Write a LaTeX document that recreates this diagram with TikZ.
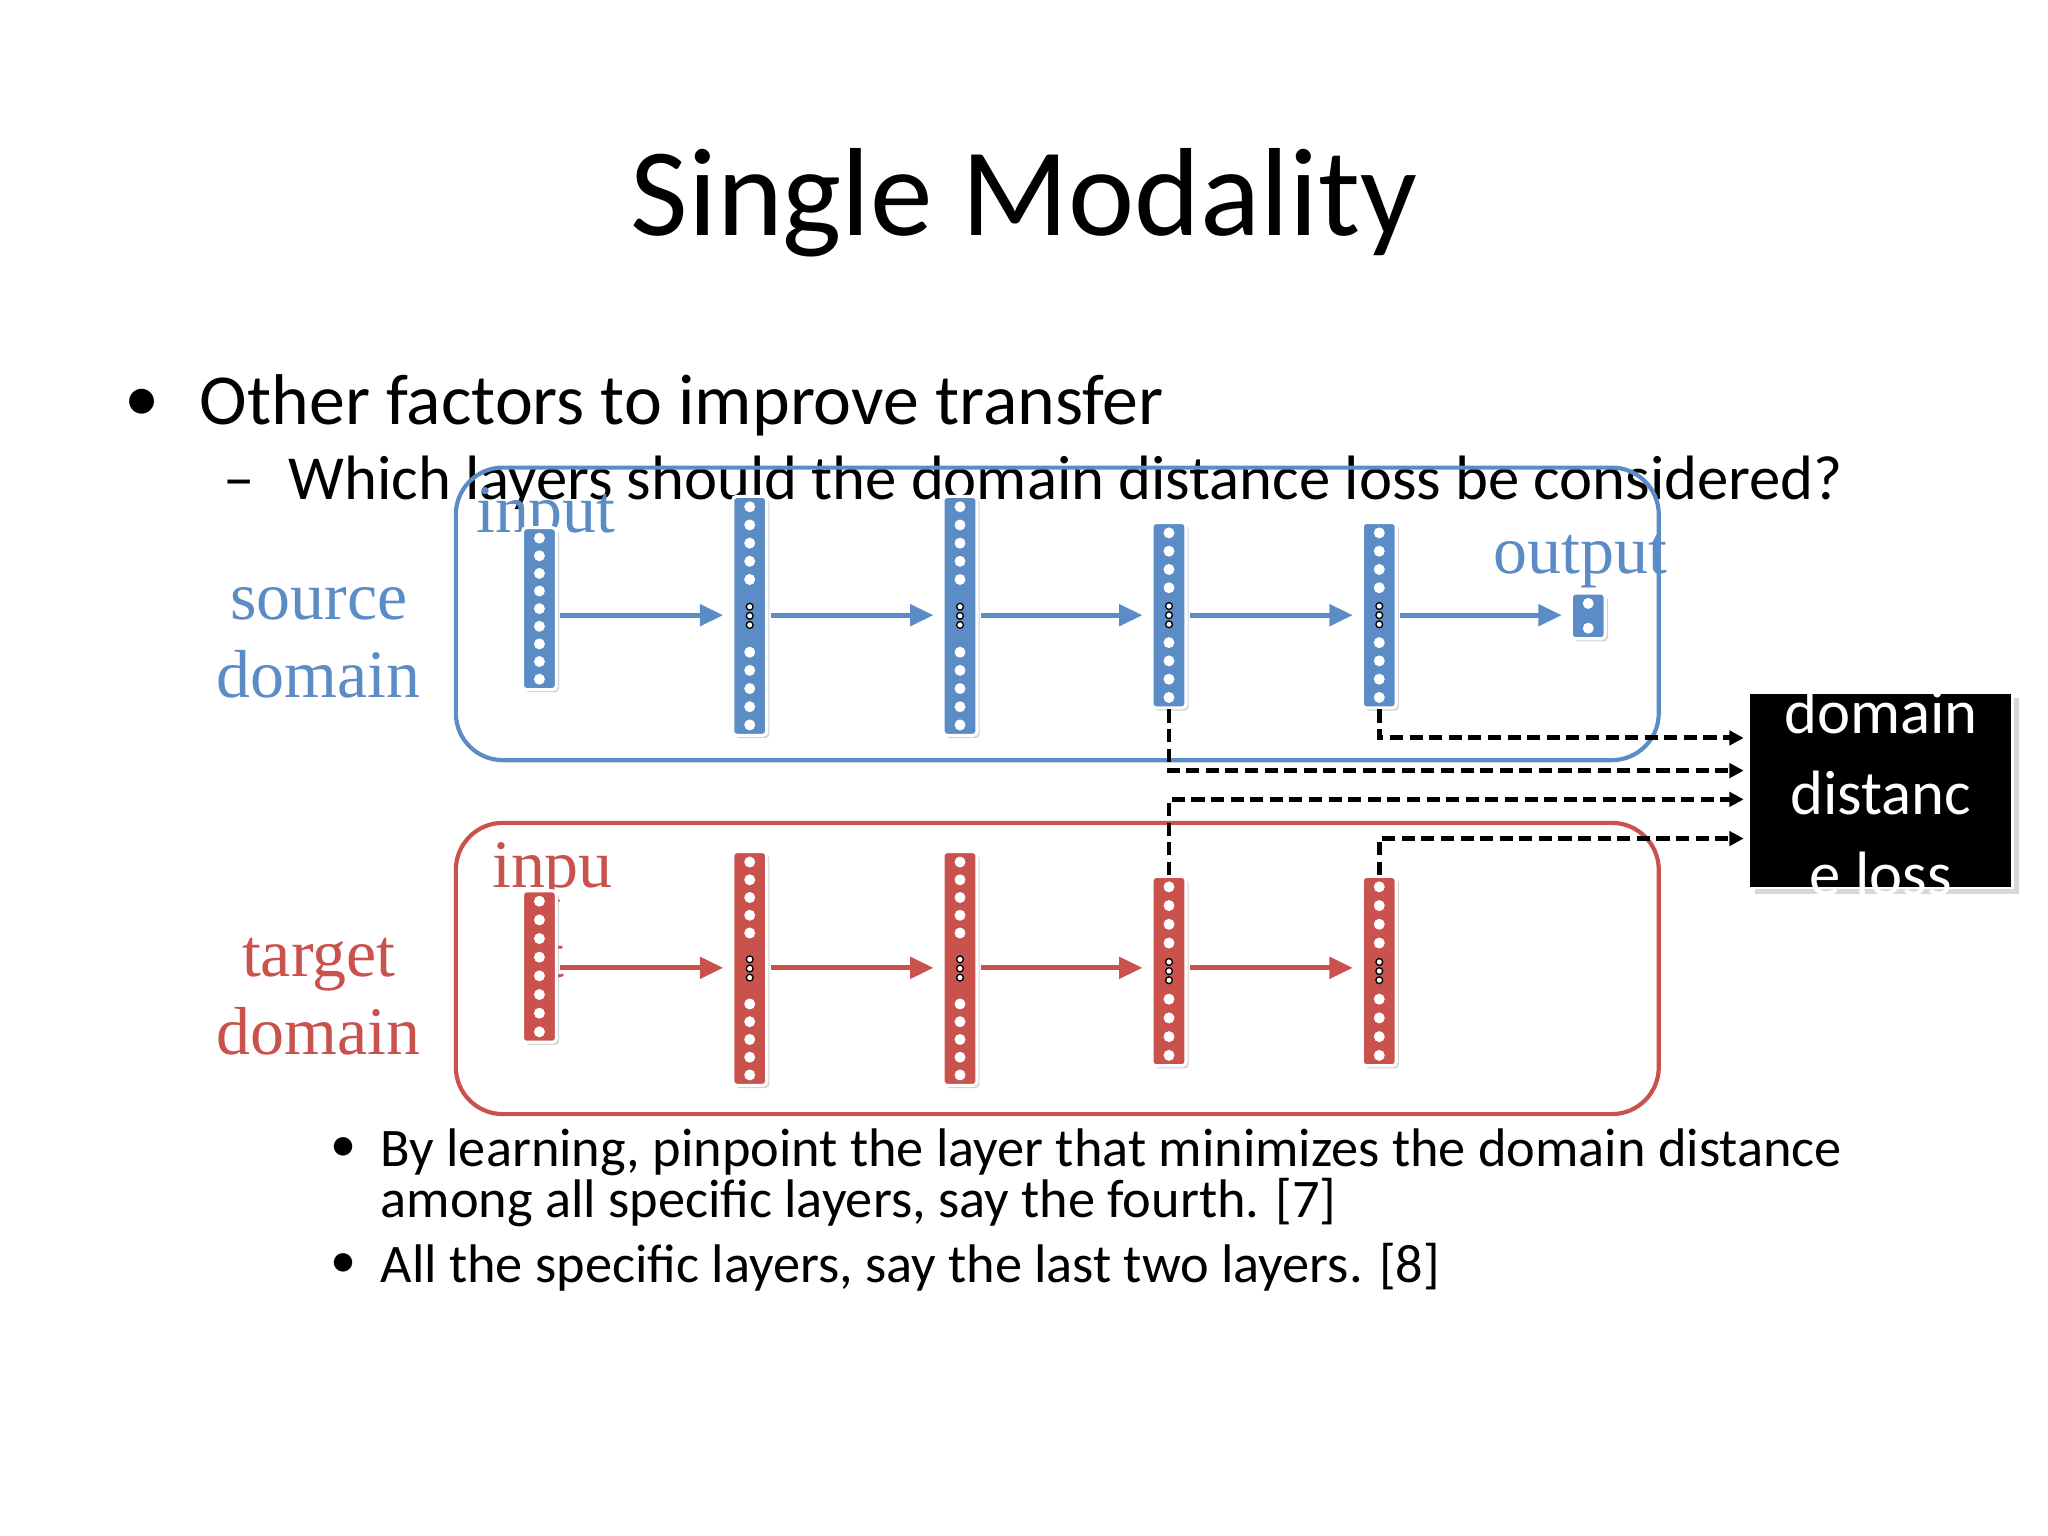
\documentclass[tikz,border=0pt]{standalone}
\usepackage{fontspec}
\setmainfont{Carlito}
\newfontfamily\serifx{Liberation Serif}
\usetikzlibrary{arrows.meta,shadows}
\definecolor{srcblue}{HTML}{5B8CC6}
\definecolor{tgtred}{HTML}{C9524D}
\tikzset{
 layerbox/.style={draw=white,line width=1.2pt,rounded corners=1.5pt,minimum width=13pt,inner sep=0pt,
   drop shadow={opacity=0.35,shadow xshift=1pt,shadow yshift=-1pt}},
 flow/.style={line width=2pt,-{Triangle[length=9pt,width=8pt]}},
 dashline/.style={line width=1.9pt,dash pattern=on 5pt off 2.5pt,-{Triangle[length=5.5pt,width=5.5pt]}},
 group/.style={line width=1.6pt,rounded corners=18pt},
 lbl/.style={align=center,font=\serifx\fontsize{26}{30}\selectfont},
}
\newcommand\nnlayer[6]{%
 \pgfmathsetmacro\ymid{(#3+#4)/2}
 \pgfmathsetmacro\hh{(#4-#3)*0.5}
 \node[layerbox,fill=#5,minimum height=\hh pt] (#1) at (#2,\ymid) {};
 \pgfmathtruncatemacro\nn{floor((#4-#3-16)/13.5)}
 \pgfmathsetmacro\stp{(#4-#3-16)/\nn}
 \foreach \i in {0,...,\nn}{%
   \pgfmathsetmacro\yy{#3+8+\i*\stp}
   \pgfmathtruncatemacro\skip{(#6==1)&&(abs(\yy-\ymid)<15)}
   \ifnum\skip=0 \fill[white] (#2,\yy) circle (2.1pt);\fi
 }
 \ifnum#6=1
  \foreach \d in {-7,0,7}{\draw[black,line width=0.5pt,fill=white] (#2,\ymid+\d) circle (1.3pt);}
 \fi
}
\begin{document}
\begin{tikzpicture}[x=0.5pt,y=-0.5pt]
\useasboundingbox (0,0) rectangle (1568,1176);
\fill[white] (0,0) rectangle (1568,1176);
\node at (784,155) {\fontsize{48}{54}\selectfont Single Modality};
\node[anchor=west] (b1) at (88,310) {\fontsize{27}{32}\selectfont •};
\node[anchor=west] (t1) at (146,310) {\fontsize{27.5}{32}\selectfont Other factors to improve transfer};
\node[anchor=west] (t2) at (164,370) {\fontsize{24}{28}\selectfont –\hspace{13pt}Which layers should the domain distance loss be considered?};
% groups
\draw[group,srcblue] (349,358) rectangle (1270,582);
\draw[group,tgtred] (349,630) rectangle (1270,853);
\node[lbl,text=srcblue] (sd) at (244,492) {source\\domain};
\node[lbl,text=tgtred] (td) at (244,763) {target\\domain};
\node[lbl,text=srcblue] (lin) at (418,396) {input};
\node[lbl,text=srcblue] (lout) at (1210,430) {output};
\node[lbl,text=tgtred] (tin) at (423,668) {inpu};
\node[lbl,text=tgtred] (tint) at (425,734) {t};
% source layers
\nnlayer{s1}{413}{404}{528}{srcblue}{0}
\nnlayer{s2}{574}{380}{563}{srcblue}{1}
\nnlayer{s3}{735}{380}{563}{srcblue}{1}
\nnlayer{s4}{895}{400}{542}{srcblue}{1}
\nnlayer{s5}{1056}{400}{542}{srcblue}{1}
\nnlayer{s6}{1216}{454}{489}{srcblue}{0}
% target layers
\nnlayer{r1}{413}{682}{798}{tgtred}{0}
\nnlayer{r2}{574}{652}{831}{tgtred}{1}
\nnlayer{r3}{735}{652}{831}{tgtred}{1}
\nnlayer{r4}{895}{671}{816}{tgtred}{1}
\nnlayer{r5}{1056}{671}{816}{tgtred}{1}
% flows
\foreach \a/\b in {s1/s2,s2/s3,s3/s4,s4/s5,s5/s6}{\draw[flow,srcblue] ([xshift=8pt]\a.center|-0,471) -- ([xshift=-3pt]\b.west|-0,471);}
\foreach \a/\b in {r1/r2,r2/r3,r3/r4,r4/r5}{\draw[flow,tgtred] ([xshift=8pt]\a.center|-0,741) -- ([xshift=-3pt]\b.west|-0,741);}
% loss box
\node[fill=black,draw=white,line width=1pt,drop shadow={opacity=0.3},minimum width=101pt,minimum height=75pt,inner sep=0pt] (loss) at (1440,605) {};
\node[text=white,align=center,font=\fontsize{24}{31}\selectfont] at (1440,607) {domain\\distanc\\e loss};
\coordinate (l1) at (1335,565);\coordinate (l2) at (1335,590);
\coordinate (l3) at (1335,612);\coordinate (l4) at (1335,642);
\draw[dashline] (s5.south) |- (l1);
\draw[dashline] (s4.south) |- (l2);
\draw[dashline] (r4.north) |- (l3);
\draw[dashline] (r5.north) |- (l4);
% bottom bullets
\node[anchor=west] at (246,880) {\fontsize{20}{24}\selectfont •};
\node[anchor=north west,align=left,inner sep=0pt,font=\fontsize{20.8}{19.5}\selectfont] (bb1) at (291,864) {By learning, pinpoint the layer that minimizes the domain distance\\among all specific layers, say the fourth. [7]};
\node[anchor=west] at (246,969) {\fontsize{20}{24}\selectfont •};
\node[anchor=west,inner sep=0pt] (bb2) at (291,970) {\fontsize{20.8}{24}\selectfont All the specific layers, say the last two layers. [8]};
\end{tikzpicture}
\end{document}
